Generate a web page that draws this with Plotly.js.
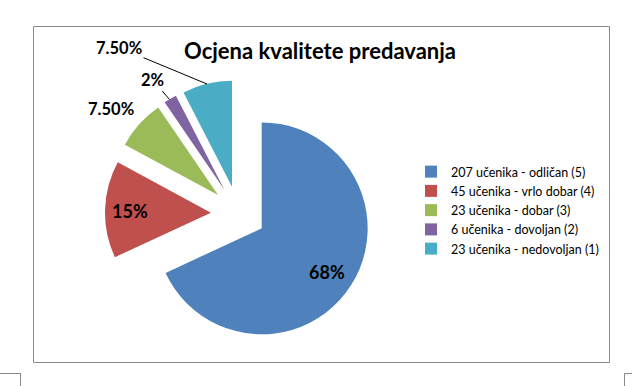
<!DOCTYPE html>
<html>
<head>
<meta charset="utf-8">
<script src="https://cdn.plot.ly/plotly-3.0.1.min.js"></script>
<style>html,body{margin:0;padding:0;background:#fff}#chart{width:632px;height:386px}</style>
</head>
<body>
<div id="chart"></div>
<script>
const categories = ["207 učenika - odličan (5)", "45 učenika - vrlo dobar (4)", "23 učenika - dobar (3)", "6 učenika - dovoljan (2)", "23 učenika - nedovoljan (1)"];
const counts = [207, 45, 23, 6, 23];
const sliceLabels = ["68%", "15%", "7.50%", "2%", "7.50%"];
const colors = ["#4F81BD", "#C0504D", "#9BBB59", "#8064A2", "#4BACC6"];

const W = 632, H = 386;
const px = x => x / W;
const py = y => 1 - y / H;

const trace = {
  type: "pie",
  labels: categories,
  values: counts,
  text: sliceLabels,
  textinfo: "none",
  sort: false,
  direction: "clockwise",
  rotation: 0,
  pull: 0.26,
  marker: {colors: colors, line: {width: 0}},
  domain: {x: [0.1661, 0.5886], y: [0.1010, 0.7927]},
  hoverinfo: "label+percent"
};

const inFont = {family: "Lato, sans-serif", size: 18, color: "#000", weight: 700};
const labFont = {family: "Lato, sans-serif", size: 16.5, color: "#000", weight: 700};
const annotations = [
  {xref: "paper", yref: "paper", x: px(326.5), y: py(272), text: sliceLabels[0], font: inFont,
   showarrow: false, xanchor: "center", yanchor: "middle"},
  {xref: "paper", yref: "paper", x: px(129.5), y: py(210.5), text: sliceLabels[1], font: inFont,
   showarrow: false, xanchor: "center", yanchor: "middle"},
  {xref: "paper", yref: "paper", x: px(207), y: py(84), text: sliceLabels[4], font: labFont,
   showarrow: true, arrowhead: 0, arrowwidth: 1, arrowcolor: "#000", ax: 119 - 207, ay: 47.5 - 84, standoff: 0},
  {xref: "paper", yref: "paper", x: px(169.5), y: py(99.5), text: sliceLabels[3], font: labFont,
   showarrow: true, arrowhead: 0, arrowwidth: 1, arrowcolor: "#000", ax: 152.5 - 169.5, ay: 79.5 - 99.5, standoff: 0},
  {xref: "paper", yref: "paper", x: px(111), y: py(108.5), text: sliceLabels[2], font: labFont,
   showarrow: false, xanchor: "center", yanchor: "middle"}
];

const gray = {color: "#898989", width: 1};
const shapes = [
  {type: "rect", xref: "paper", yref: "paper", x0: px(33.5), x1: px(609.5), y0: py(362.5), y1: py(26.5), line: gray},
  {type: "line", xref: "paper", yref: "paper", x0: px(0), x1: px(20.5), y0: py(373.5), y1: py(373.5), line: gray},
  {type: "line", xref: "paper", yref: "paper", x0: px(20.5), x1: px(20.5), y0: py(373.5), y1: py(386), line: gray},
  {type: "line", xref: "paper", yref: "paper", x0: px(624.5), x1: px(632), y0: py(373.5), y1: py(373.5), line: gray},
  {type: "line", xref: "paper", yref: "paper", x0: px(624.5), x1: px(624.5), y0: py(373.5), y1: py(386), line: gray}
];

const layout = {
  width: W, height: H,
  margin: {l: 0, r: 0, t: 0, b: 0},
  paper_bgcolor: "#fff",
  plot_bgcolor: "#fff",
  title: {text: "Ocjena kvalitete predavanja", font: {family: "Lato, sans-serif", size: 22, color: "#000", weight: 700},
          x: 320 / W, xanchor: "center", y: py(51), yanchor: "middle", yref: "container"},
  showlegend: true,
  legend: {x: px(411), y: py(157), xanchor: "left", yanchor: "top",
           font: {family: "Lato, sans-serif", size: 12.5, color: "#000"}, bgcolor: "rgba(0,0,0,0)"},
  annotations: annotations,
  shapes: shapes
};

Plotly.newPlot("chart", [trace], layout, {displayModeBar: false, staticPlot: true});
</script>
</body>
</html>
